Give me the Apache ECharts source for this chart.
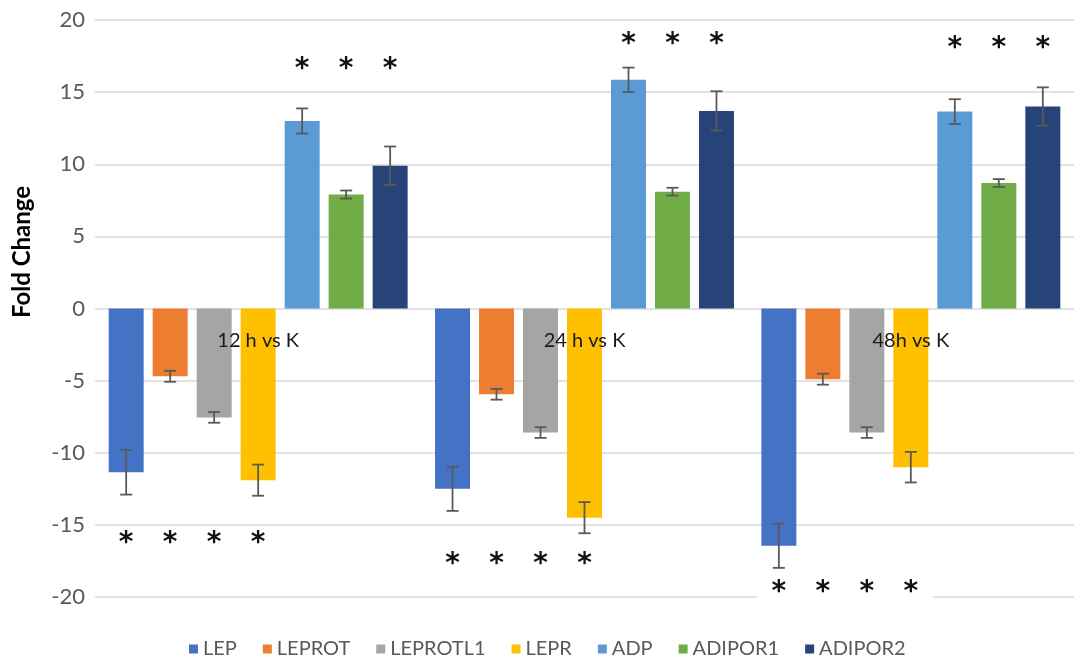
<!DOCTYPE html>
<html>
<head>
<meta charset="utf-8">
<script src="https://cdn.jsdelivr.net/npm/echarts@6/dist/echarts.min.js"></script>
<style>html,body{margin:0;padding:0;background:#fff}#c{width:1074px;height:657px}</style>
</head>
<body>
<div id="c"></div>
<script>
var categories = ['12 h vs K', '24 h vs K', '48h vs K'];
var genes = ['LEP', 'LEPROT', 'LEPROTL1', 'LEPR', 'ADP', 'ADIPOR1', 'ADIPOR2'];
var LEP = [-11.35, -12.5, -16.45];
var LEPROT = [-4.7, -5.95, -4.9];
var LEPROTL1 = [-7.55, -8.6, -8.6];
var LEPR = [-11.9, -14.5, -11.0];
var ADP = [13.0, 15.85, 13.65];
var ADIPOR1 = [7.9, 8.1, 8.7];
var ADIPOR2 = [9.9, 13.7, 14.0];
var LEP_err = [1.55, 1.53, 1.53];
var LEPROT_err = [0.38, 0.37, 0.38];
var LEPROTL1_err = [0.37, 0.37, 0.37];
var LEPR_err = [1.08, 1.08, 1.06];
var ADP_err = [0.87, 0.85, 0.86];
var ADIPOR1_err = [0.28, 0.27, 0.27];
var ADIPOR2_err = [1.33, 1.36, 1.33];
var starNegLevel = [-15.9, -17.36, -19.32];
var starPosLevel = [16.94, 18.68, 18.42];
var yTicks = [-20, -15, -10, -5, 0, 5, 10, 15, 20];

var values = [LEP, LEPROT, LEPROTL1, LEPR, ADP, ADIPOR1, ADIPOR2];
var errors = [LEP_err, LEPROT_err, LEPROTL1_err, LEPR_err, ADP_err, ADIPOR1_err, ADIPOR2_err];
var colors = ['#4472C4', '#ED7D31', '#A5A5A5', '#FFC000', '#5B9BD5', '#70AD47', '#264478'];

var BAR_W = 35, BAR_GAP = 0.257;
var PITCH = BAR_W * (1 + BAR_GAP);
var FONT = 'Lato, "Open Sans", sans-serif';

var series = [];
genes.forEach(function (g, i) {
  series.push({
    name: g, type: 'bar', data: values[i], barWidth: BAR_W, barGap: (BAR_GAP * 100) + '%',
    itemStyle: { color: colors[i] }, z: 2
  });
});
genes.forEach(function (g, i) {
  var off = (i - (genes.length - 1) / 2) * PITCH;
  series.push({
    type: 'custom', name: g + '_err', z: 3, silent: true,
    data: values[i].map(function (v, k) { return [k, v, errors[i][k]]; }),
    renderItem: function (params, api) {
      var k = api.value(0), v = api.value(1), e = api.value(2);
      var hi = api.coord([k, v + e]), lo = api.coord([k, v - e]);
      var x = hi[0] + off;
      var st = { stroke: '#595959', lineWidth: 1.8 };
      return { type: 'group', children: [
        { type: 'line', shape: { x1: x, y1: hi[1], x2: x, y2: lo[1] }, style: st },
        { type: 'line', shape: { x1: x - 6, y1: hi[1], x2: x + 6, y2: hi[1] }, style: st },
        { type: 'line', shape: { x1: x - 6, y1: lo[1], x2: x + 6, y2: lo[1] }, style: st }
      ]};
    }
  });
});
// significance asterisks
var starData = [];
genes.forEach(function (g, i) {
  categories.forEach(function (c, k) {
    var lvl = values[i][k] < 0 ? starNegLevel[k] : starPosLevel[k];
    starData.push([k, lvl, i]);
  });
});
series.push({
  type: 'custom', name: 'stars', z: 4, silent: true, data: starData,
  renderItem: function (params, api) {
    var k = api.value(0), lvl = api.value(1), i = api.value(2);
    var p = api.coord([k, lvl]);
    var x = p[0] + (i - (genes.length - 1) / 2) * PITCH;
    return { type: 'group', children: [
      { type: 'rect', shape: { x: x - PITCH / 2, y: p[1] - 11, width: PITCH, height: 22 }, style: { fill: '#fff' } },
      { type: 'text', x: x, y: p[1] + 6, style: { text: '*', fontSize: 28, fontWeight: 'bold', fontFamily: 'DejaVu Sans', fill: '#111', align: 'center', verticalAlign: 'middle' } }
    ]};
  }
});
// category labels just below the zero line
series.push({
  type: 'custom', name: 'catLabels', z: 5, silent: true,
  data: categories.map(function (c, k) { return [k, 0]; }),
  renderItem: function (params, api) {
    var p = api.coord([api.value(0), api.value(1)]);
    return { type: 'text', x: p[0], y: p[1] + 32, style: { text: categories[params.dataIndex], font: '20px ' + FONT, fill: '#1a1a1a', align: 'center', verticalAlign: 'middle' } };
  }
});

var chart = echarts.init(document.getElementById('c'));
chart.setOption({
  animation: false,
  textStyle: { fontFamily: FONT },
  grid: { left: 95, right: -6, top: 20, bottom: 60, containLabel: false },
  legend: {
    data: genes, top: 634, left: 184, icon: 'rect', itemWidth: 9, itemHeight: 9, itemGap: 26,
    textStyle: { fontSize: 20, color: '#595959', fontFamily: FONT }
  },
  xAxis: {
    type: 'category', data: categories,
    axisLine: { show: false }, axisTick: { show: false },
    axisLabel: { show: false },
    splitLine: { show: false }
  },
  yAxis: {
    type: 'value', min: yTicks[0], max: yTicks[yTicks.length - 1], interval: 5,
    axisLine: { show: false }, axisTick: { show: false },
    axisLabel: { fontSize: 22, color: '#595959', margin: 10, fontFamily: FONT },
    splitLine: { lineStyle: { color: '#d9d9d9', width: 1.5 } }
  },
  graphic: [{
    type: 'text', x: 22, y: 252, rotation: Math.PI / 2,
    style: { text: 'Fold Change', font: 'bold 24px ' + FONT, fill: '#000', align: 'center', verticalAlign: 'middle' }
  }],
  series: series
});
</script>
</body>
</html>
